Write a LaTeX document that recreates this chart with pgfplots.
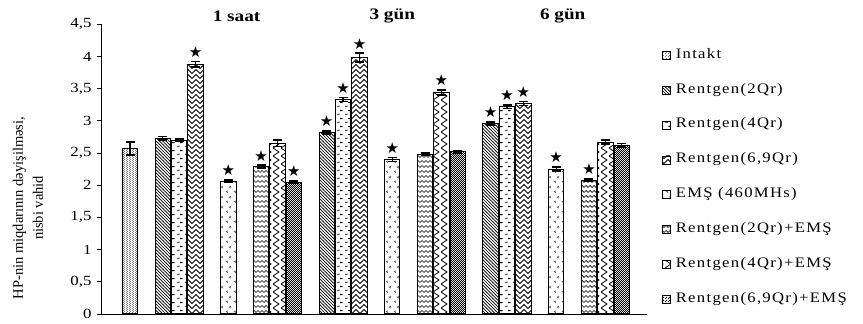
\documentclass[border=0pt]{standalone}
\usepackage{fontspec}
\setmainfont[FakeStretch=1.2]{Liberation Serif}
\newfontfamily\plainfont{Liberation Serif}
\newfontfamily\legfont[FakeStretch=1.15,LetterSpace=9]{Liberation Serif}
\newfontfamily\starfont{DejaVu Sans}
\usepackage{pgfplots}
\pgfplotsset{compat=1.18}
\usetikzlibrary{patterns}

\pgfdeclarepatternformonly{fdots}{\pgfqpoint{0pt}{0pt}}{\pgfqpoint{2.4pt}{2.4pt}}{\pgfqpoint{2.4pt}{2.4pt}}{%
 \pgfpathcircle{\pgfqpoint{0.6pt}{0.6pt}}{0.45pt}\pgfpathcircle{\pgfqpoint{1.8pt}{1.8pt}}{0.45pt}\pgfusepath{fill}}
\pgfdeclarepatternformonly{nwl}{\pgfqpoint{-0.5pt}{-0.5pt}}{\pgfqpoint{3.7pt}{3.7pt}}{\pgfqpoint{3.2pt}{3.2pt}}{%
 \pgfsetlinewidth{0.65pt}\pgfpathmoveto{\pgfqpoint{-0.2pt}{3.4pt}}\pgfpathlineto{\pgfqpoint{3.4pt}{-0.2pt}}\pgfusepath{stroke}}
\pgfdeclarepatternformonly{dashes}{\pgfqpoint{0pt}{0pt}}{\pgfqpoint{8pt}{8pt}}{\pgfqpoint{8pt}{8pt}}{%
 \pgfsetlinewidth{1pt}\pgfpathmoveto{\pgfqpoint{1pt}{2pt}}\pgfpathlineto{\pgfqpoint{4pt}{2pt}}%
 \pgfpathmoveto{\pgfqpoint{4.5pt}{6pt}}\pgfpathlineto{\pgfqpoint{7.5pt}{6pt}}\pgfusepath{stroke}}
\pgfdeclarepatternformonly{chev}{\pgfqpoint{-0.5pt}{-0.5pt}}{\pgfqpoint{8.5pt}{5.5pt}}{\pgfqpoint{8pt}{5pt}}{%
 \pgfsetlinewidth{0.8pt}\pgfpathmoveto{\pgfqpoint{0pt}{0.5pt}}\pgfpathlineto{\pgfqpoint{4pt}{4.5pt}}\pgfpathlineto{\pgfqpoint{8pt}{0.5pt}}\pgfusepath{stroke}}
\pgfdeclarepatternformonly{ltm}{\pgfqpoint{0pt}{0pt}}{\pgfqpoint{8pt}{10pt}}{\pgfqpoint{8pt}{10pt}}{%
 \pgfsetlinewidth{0.7pt}\pgfpathmoveto{\pgfqpoint{4.5pt}{3.5pt}}\pgfpathlineto{\pgfqpoint{2.5pt}{2.5pt}}\pgfpathlineto{\pgfqpoint{4.5pt}{1.5pt}}%
 \pgfpathmoveto{\pgfqpoint{7.8pt}{8.5pt}}\pgfpathlineto{\pgfqpoint{5.8pt}{7.5pt}}\pgfpathlineto{\pgfqpoint{7.8pt}{6.5pt}}\pgfusepath{stroke}}
\pgfdeclarepatternformonly{waves}{\pgfqpoint{-0.5pt}{0pt}}{\pgfqpoint{4.5pt}{5pt}}{\pgfqpoint{4pt}{5pt}}{%
 \pgfsetlinewidth{0.7pt}\pgfpathmoveto{\pgfqpoint{0pt}{1.5pt}}\pgfpathlineto{\pgfqpoint{2pt}{3.5pt}}\pgfpathlineto{\pgfqpoint{4pt}{1.5pt}}\pgfusepath{stroke}}
\pgfdeclarepatternformonly{vzig}{\pgfqpoint{0pt}{-0.5pt}}{\pgfqpoint{8pt}{8.5pt}}{\pgfqpoint{8pt}{8pt}}{%
 \pgfsetlinewidth{0.8pt}\pgfpathmoveto{\pgfqpoint{1pt}{0pt}}\pgfpathlineto{\pgfqpoint{7pt}{4pt}}\pgfpathlineto{\pgfqpoint{1pt}{8pt}}\pgfusepath{stroke}}
\pgfdeclarepatternformonly{checker}{\pgfqpoint{0pt}{0pt}}{\pgfqpoint{2.4pt}{2.4pt}}{\pgfqpoint{2.4pt}{2.4pt}}{%
 \pgfpathrectangle{\pgfqpoint{0pt}{0pt}}{\pgfqpoint{1.2pt}{1.2pt}}\pgfpathrectangle{\pgfqpoint{1.2pt}{1.2pt}}{\pgfqpoint{1.2pt}{1.2pt}}\pgfusepath{fill}}

\pgfplotsset{
 mybar/.style={ybar, bar shift=0pt, bar width=15.4pt, draw=black, line width=1pt,
  /pgfplots/error bars/y dir=both, /pgfplots/error bars/y explicit,
  /pgfplots/error bars/error bar style={line width=1.3pt, black, solid},
  /pgfplots/error bars/error mark options={rotate=90, line width=1.6pt, black, mark size=4.5pt}},
}

\begin{document}
\begin{tikzpicture}
\begin{axis}[
 scale only axis, width=546pt, height=289.7pt,
 xmin=-1.77, xmax=31.54, ymin=0, ymax=4.5,
 axis x line=bottom, axis y line=left, axis line style={-, line width=0.8pt},
 xtick=\empty, ytick={0,0.5,1,1.5,2,2.5,3,3.5,4,4.5},
 tick align=outside, major tick length=4pt, tick style={black, line width=0.8pt},
 /pgf/number format/use comma, /pgf/number format/assume math mode=true,
 yticklabel style={font=\fontsize{14}{16}\selectfont, xshift=-2pt},
 ylabel={HP-nin miqdarının dəyişilməsi,\\nisbi vahid},
 ylabel style={font=\plainfont\fontsize{14.5}{20}\selectfont, align=center, at={(rel axis cs:-0.1337,0.366)}, anchor=center},
 clip=false,
 legend cell align=left,
 legend style={at={(1.0275,0.915)}, anchor=north west, draw=none, fill=none, inner sep=0pt,
   font=\legfont\fontsize{14.5}{16}\selectfont, row sep=22.9pt, column sep=5pt,
   nodes={inner sep=0pt, text height=9pt, text depth=3pt}},
 legend image code/.code={\draw[#1, line width=0.6pt] (0pt,-4pt) rectangle (8pt,4pt);},
]
\addplot[pattern=fdots, pattern color=black!80, mybar] coordinates {(0,2.57) +- (0,0.10)};
\addplot[pattern=nwl, mybar] coordinates {(2,2.73) +- (0,0.03) (12,2.82) +- (0,0.02) (22,2.96) +- (0,0.02)};
\addplot[pattern=dashes, mybar] coordinates {(3,2.70) +- (0,0.02) (13,3.33) +- (0,0.03) (23,3.22) +- (0,0.03)};
\addplot[pattern=chev, mybar] coordinates {(4,3.88) +- (0,0.04) (14,3.98) +- (0,0.07) (24,3.27) +- (0,0.03)};
\addplot[pattern=ltm, pattern color=black!65, mybar] coordinates {(6,2.06) +- (0,0.02) (16,2.40) +- (0,0.03) (26,2.25) +- (0,0.03)};
\addplot[pattern=waves, mybar] coordinates {(8,2.29) +- (0,0.02) (18,2.48) +- (0,0.02) (28,2.08) +- (0,0.02)};
\addplot[pattern=vzig, mybar] coordinates {(9,2.65) +- (0,0.05) (19,3.44) +- (0,0.04) (29,2.67) +- (0,0.03)};
\addplot[pattern=checker, mybar] coordinates {(10,2.05) +- (0,0.02) (20,2.52) +- (0,0.02) (30,2.62) +- (0,0.03)};
\legend{Intakt, Rentgen(2Qr), Rentgen(4Qr), {Rentgen(6,9Qr)}, EMŞ (460MHs), Rentgen(2Qr)+EMŞ, Rentgen(4Qr)+EMŞ, {Rentgen(6,9Qr)+EMŞ}}
\addplot[draw=none, mark=none, forget plot, point meta=y,
  nodes near coords={\starfont ★},
  nodes near coords style={anchor=south, inner sep=0pt, yshift=4pt, font=\fontsize{15}{15}\selectfont, text=black}]
  coordinates {(4,3.92) (6,2.08) (8,2.31) (10,2.07) (12,2.84) (13,3.36) (14,4.05) (16,2.43) (19,3.48) (22,2.98) (23,3.25) (24,3.30) (26,2.28) (28,2.10)};
\node[font=\bfseries\fontsize{16}{18}\selectfont] at (axis cs:6.5,4.63) {1 saat};
\node[font=\bfseries\fontsize{16}{18}\selectfont] at (axis cs:16,4.63) {3 gün};
\node[font=\bfseries\fontsize{16}{18}\selectfont] at (axis cs:26.4,4.63) {6 gün};
\coordinate (bl) at (rel axis cs:0,0);
\end{axis}
\pgfresetboundingbox
\path[use as bounding box] ([shift={(-101pt,-10pt)}]bl) rectangle ([shift={(762pt,314pt)}]bl);
\end{tikzpicture}
\end{document}
